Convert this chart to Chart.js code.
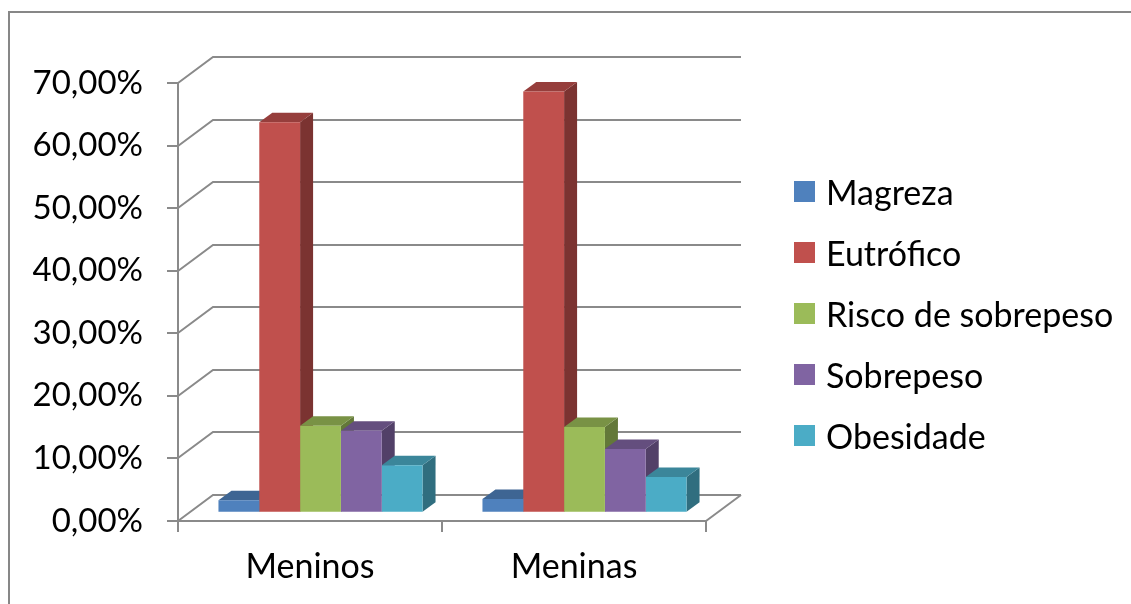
<!DOCTYPE html>
<html>
<head>
<meta charset="utf-8">
<script src="https://cdn.jsdelivr.net/npm/chart.js@4.4.1/dist/chart.umd.min.js"></script>
<style>
  body { margin:0; background:#fff; }
  #wrap { position:relative; width:1131px; height:604px; overflow:hidden; background:#fff; }
  #frame { position:absolute; left:8px; top:11px; width:1200px; height:700px; border:2px solid #878787; }
  canvas { position:absolute; left:0; top:0; }
  #legend { position:absolute; left:794px; top:0; font-family:Lato, sans-serif; font-size:34px; color:#000; }
  .item { position:absolute; left:0; height:40px; display:flex; align-items:center; white-space:nowrap; }
  .box { width:21px; height:21px; margin-right:11px; flex:none; }
</style>
</head>
<body>
<div id="wrap">
  <div id="frame"></div>
  <canvas id="chart" width="1131" height="604"></canvas>
  <div id="legend"></div>
</div>
<script>
// ── dados ──────────────────────────────────────────────
const categorias = ['Meninos', 'Meninas'];
const series     = ['Magreza', 'Eutrófico', 'Risco de sobrepeso', 'Sobrepeso', 'Obesidade'];
const magreza    = [2.0, 2.2];
const eutrofico  = [62.4, 67.3];
const risco      = [13.9, 13.7];
const sobrepeso  = [13.1, 10.2];
const obesidade  = [7.6, 5.7];
const yMax = 70, yStep = 10;

// ── estilo ─────────────────────────────────────────────
const cores = ['#4F81BD', '#C0504D', '#9BBB59', '#8064A2', '#4BACC6'];
const GRID = '#8a8a8a';
const FONT = 'Lato';
const DEPTH = [35, -26];      // profundidade total das paredes
const BAR_OFF = [10.5, -8.3]; // plano frontal das barras
const BAR_D = [13, -9.5];     // profundidade das barras

function shade(hex, f) {
  const n = parseInt(hex.slice(1), 16);
  const r = Math.round(((n >> 16) & 255) * f), g = Math.round(((n >> 8) & 255) * f), b = Math.round((n & 255) * f);
  return `rgb(${r},${g},${b})`;
}

const valores = [magreza, eutrofico, risco, sobrepeso, obesidade];

// legenda em HTML
const leg = document.getElementById('legend');
leg.innerHTML = series.map((s, i) =>
  `<div class="item" style="top:${191 + i * 61 - 20}px"><div class="box" style="background:${cores[i]}"></div>${s}</div>`).join('');

// paredes 3D + faces de topo/lado
const walls3d = {
  id: 'walls3d',
  beforeDatasetsDraw(chart) {
    const { ctx, chartArea: a, scales: { y } } = chart;
    const [dx, dy] = DEPTH;
    ctx.save();
    ctx.strokeStyle = GRID;
    ctx.lineWidth = 2;
    for (let v = 0; v <= yMax; v += yStep) {
      const py = Math.round(y.getPixelForValue(v));
      ctx.beginPath();
      ctx.moveTo(a.left, py);
      ctx.lineTo(a.left + dx, py + dy);
      ctx.lineTo(a.right + dx, py + dy);
      ctx.stroke();
    }
    const p0 = Math.round(y.getPixelForValue(0));
    ctx.beginPath();
    ctx.moveTo(a.right, p0);
    ctx.lineTo(a.right + dx, p0 + dy);
    ctx.stroke();
    ctx.restore();

    // barras: lados e topos, depois a frente pela própria lib
    ctx.save();
    ctx.translate(BAR_OFF[0], BAR_OFF[1]);
    const [bx, by] = BAR_D;
    const els = [];
    chart.data.datasets.forEach((ds, i) => {
      chart.getDatasetMeta(i).data.forEach(el => {
        const p = el.getProps(['x', 'y', 'base', 'width'], true);
        els.push({ i, x0: p.x - p.width / 2, x1: p.x + p.width / 2, top: p.y, base: p.base });
      });
    });
    els.forEach(e => {
      ctx.fillStyle = shade(cores[e.i], 0.64);
      ctx.beginPath();
      ctx.moveTo(e.x1, e.top);
      ctx.lineTo(e.x1 + bx, e.top + by);
      ctx.lineTo(e.x1 + bx, e.base + by);
      ctx.lineTo(e.x1, e.base);
      ctx.closePath();
      ctx.fill();
    });
    els.forEach(e => {
      ctx.fillStyle = shade(cores[e.i], 0.78);
      ctx.beginPath();
      ctx.moveTo(e.x0, e.top);
      ctx.lineTo(e.x0 + bx, e.top + by);
      ctx.lineTo(e.x1 + bx, e.top + by);
      ctx.lineTo(e.x1, e.top);
      ctx.closePath();
      ctx.fill();
    });
  },
  afterDatasetsDraw(chart) {
    chart.ctx.restore();
  }
};

function draw() {
  new Chart(document.getElementById('chart'), {
    type: 'bar',
    data: {
      labels: categorias,
      datasets: series.map((s, i) => ({
        label: s, data: valores[i], backgroundColor: cores[i], borderWidth: 0,
        categoryPercentage: 0.773, barPercentage: 1.0, clip: false
      }))
    },
    options: {
      responsive: false, animation: false, devicePixelRatio: 1,
      layout: { padding: { left: 0, top: 83, right: 425, bottom: 0 } },
      plugins: { legend: { display: false }, tooltip: { enabled: false } },
      scales: {
        x: {
          afterFit: s => { s.height = 83; },
          grid: { display: true, drawOnChartArea: false, drawTicks: true, tickLength: 11, color: GRID, lineWidth: 2, offset: true },
          border: { display: true, color: GRID, width: 2 },
          ticks: { color: '#000', font: { family: FONT, size: 34 }, padding: 15 }
        },
        y: {
          min: 0, max: yMax,
          afterFit: s => { s.width = 178; },
          grid: { display: true, drawOnChartArea: false, drawTicks: true, tickLength: 11, color: GRID, lineWidth: 2 },
          border: { display: true, color: GRID, width: 2 },
          ticks: {
            stepSize: yStep, color: '#000', font: { family: FONT, size: 33 }, padding: 24,
            callback: v => v.toFixed(2).replace('.', ',') + '%'
          }
        }
      }
    },
    plugins: [walls3d]
  });
}

document.fonts.load('34px Lato').then(draw, draw);
</script>
</body>
</html>
